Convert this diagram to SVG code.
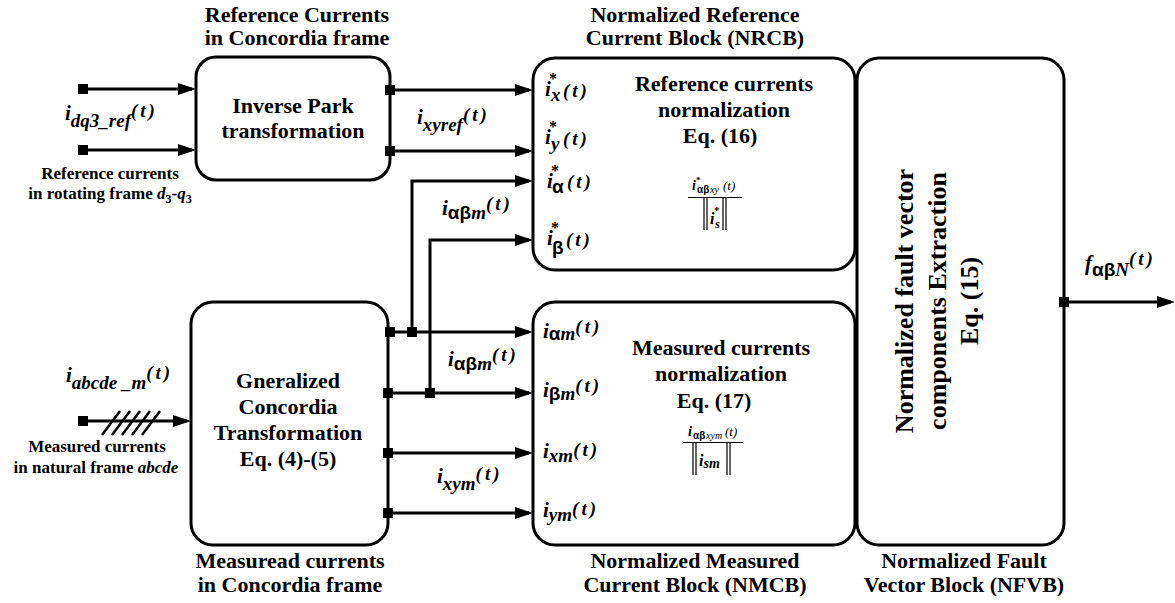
<svg xmlns="http://www.w3.org/2000/svg" width="1175" height="603" viewBox="0 0 1175 603">
<style>
.bg{fill:#fff}
.box{fill:#fff;stroke:#000;stroke-width:3}
.ln{fill:none;stroke:#000;stroke-width:1.2}
.arr{fill:none;stroke:#000;stroke-width:3;marker-end:url(#ah)}
.hs{stroke:#000;stroke-width:2.5}
.t{font-family:"Liberation Serif","Times New Roman","DejaVu Serif",serif;font-weight:bold;font-size:22px;text-anchor:middle;fill:#000}
.s{font-family:"Liberation Serif","Times New Roman","DejaVu Serif",serif;font-weight:bold;font-size:17px;text-anchor:middle;fill:#000}
.v{font-family:"Liberation Serif","Times New Roman","DejaVu Serif",serif;font-weight:bold;font-size:26px;text-anchor:middle;fill:#000}
.lab{font-family:"Liberation Serif","Times New Roman","DejaVu Serif",serif;font-weight:bold;font-style:italic;font-size:21px;fill:#000}
.sb{font-size:19px}
.pt{font-size:19px;letter-spacing:3px}
.g{font-family:"Liberation Sans",Arial,sans-serif;font-style:normal;font-weight:bold}
.st{font-style:normal;font-size:16px}
.fr{font-family:"Liberation Serif","Times New Roman","DejaVu Serif",serif;font-weight:bold;font-style:italic;fill:#000}
</style>
<defs>
<marker id="ah" markerUnits="userSpaceOnUse" markerWidth="18" markerHeight="12" refX="14" refY="6" orient="auto"><path d="M0,0 L18,6 L0,12 z" fill="#000"/></marker>
<rect id="sq" x="-5" y="-5" width="10" height="10" fill="#000"/>
</defs>
<rect class="bg" width="1175" height="603"/>

<g id="titles">
<text class="t" x="297" y="22">Reference Currents</text>
<text class="t" x="297" y="45">in Concordia frame</text>
<text class="t" x="695" y="22">Normalized Reference</text>
<text class="t" x="695" y="45">Current Block (NRCB)</text>
<text class="t" x="290" y="568">Measuread currents</text>
<text class="t" x="290" y="592">in Concordia frame</text>
<text class="t" x="695" y="568">Normalized Measured</text>
<text class="t" x="695" y="592">Current Block (NMCB)</text>
<text class="t" x="964" y="568">Normalized Fault</text>
<text class="t" x="964" y="592">Vector Block (NFVB)</text>
</g>

<g id="ref-input">
<text class="lab" x="65" y="120">i<tspan class="sb" dy="7">dq3_ref</tspan><tspan class="pt" dy="-10">(t)</tspan></text>
<text class="s" x="110" y="179">Reference currents</text>
<text class="s" x="110" y="199">in rotating frame <tspan font-style="italic">d</tspan><tspan font-size="12" dy="4">3</tspan><tspan dy="-4">-</tspan><tspan font-style="italic">q</tspan><tspan font-size="12" dy="4">3</tspan></text>
</g>

<g id="meas-input">
<text class="lab" x="66" y="382">i<tspan class="sb" dy="7">abcde _m</tspan><tspan class="pt" dy="-10">(t)</tspan></text>
<text class="s" x="97" y="452">Measured currents</text>
<text class="s" x="96" y="473">in natural frame <tspan font-style="italic">abcde</tspan></text>
</g>

<g id="inverse-park">
<rect class="box" x="196" y="57" width="194" height="123" rx="20"/>
<text class="t" x="293" y="113">Inverse Park</text>
<text class="t" x="293" y="138">transformation</text>
</g>

<g id="concordia">
<rect class="box" x="191" y="302" width="197" height="243" rx="22"/>
<text class="t" x="288" y="388">Gneralized</text>
<text class="t" x="288" y="414">Concordia</text>
<text class="t" x="288" y="440">Transformation</text>
<text class="t" x="288" y="466">Eq. (4)-(5)</text>
</g>

<g id="nrcb">
<rect class="box" x="533" y="58" width="322" height="212" rx="22"/>
<text class="t" x="724" y="91">Reference currents</text>
<text class="t" x="724" y="117">normalization</text>
<text class="t" x="720" y="143">Eq. (16)</text>
<text class="lab" x="545" y="96">i<tspan class="st" x="549" y="84">*</tspan><tspan class="sb" x="551" y="101">x</tspan><tspan class="pt" x="563" y="97">(t)</tspan></text>
<text class="lab" x="545" y="144">i<tspan class="st" x="549" y="132">*</tspan><tspan class="sb" x="551" y="150">y</tspan><tspan class="pt" x="563" y="145">(t)</tspan></text>
<text class="lab" x="547" y="188">i<tspan class="st" x="551" y="176">*</tspan><tspan class="g" font-size="19" x="552" y="193">α</tspan><tspan class="pt" x="567" y="188">(t)</tspan></text>
<text class="lab" x="547" y="245">i<tspan class="st" x="551" y="233">*</tspan><tspan class="g" font-size="19" x="552" y="254">β</tspan><tspan class="pt" x="566" y="246">(t)</tspan></text>
<text class="fr" x="692" y="190" font-size="14">i<tspan font-size="9" font-style="normal" x="696" y="183">*</tspan><tspan class="g" font-size="10" font-style="italic" x="697" y="193">αβ</tspan><tspan font-size="10" font-weight="normal" x="710" y="193">xy</tspan><tspan font-size="13" font-weight="normal" x="723" y="190">(t)</tspan></text>
<line class="ln" x1="688" y1="197.5" x2="742" y2="197.5"/>
<path class="ln" d="M704,198 V230 M707,198 V230 M723,198 V230 M726,198 V230"/>
<text class="fr" x="710" y="224" font-size="16">i<tspan font-size="11" font-style="normal" x="714" y="214">*</tspan><tspan font-size="13" x="715" y="228">s</tspan></text>
</g>

<g id="nmcb">
<rect class="box" x="533" y="302" width="322" height="243" rx="22"/>
<text class="t" x="721" y="355">Measured currents</text>
<text class="t" x="721" y="381">normalization</text>
<text class="t" x="714" y="408">Eq. (17)</text>
<text class="lab" x="543" y="338">i<tspan class="g" font-size="19" dy="2">α</tspan><tspan class="sb" dy="0">m</tspan><tspan class="pt" dy="-7">(t)</tspan></text>
<text class="lab" x="543" y="397">i<tspan class="g" font-size="19" dy="3">β</tspan><tspan class="sb" dy="0">m</tspan><tspan class="pt" dy="-8">(t)</tspan></text>
<text class="lab" x="543" y="458">i<tspan class="sb" dy="4">xm</tspan><tspan class="pt" dy="-6">(t)</tspan></text>
<text class="lab" x="543" y="517">i<tspan class="sb" dy="4">ym</tspan><tspan class="pt" dy="-6">(t)</tspan></text>
<text class="fr" x="688" y="436" font-size="14">i<tspan class="g" font-size="10" font-style="italic" x="693" y="439">αβ</tspan><tspan font-size="10" font-weight="normal" x="706" y="439">xym</tspan><tspan font-size="13" font-weight="normal" x="725" y="436">(t)</tspan></text>
<line class="ln" x1="683" y1="442.5" x2="743" y2="442.5"/>
<path class="ln" d="M693,443 V475 M696,443 V475 M727,443 V475 M730,443 V475"/>
<text class="fr" x="699" y="466" font-size="16">i<tspan font-size="14" dy="2">sm</tspan></text>
</g>

<g id="nfvb">
<rect class="box" x="857" y="58" width="207" height="487" rx="22"/>
<text class="v" transform="translate(913,301) rotate(-90)">Normalized fault vector</text>
<text class="v" transform="translate(946,301) rotate(-90)">components Extraction</text>
<text class="v" transform="translate(978,301) rotate(-90)">Eq.  (15)</text>
</g>

<g id="connectors">
<path class="arr" d="M83,89 H192"/>
<path class="arr" d="M83,150 H192"/>
<path class="arr" d="M390,90 H529"/>
<path class="arr" d="M390,151 H529"/>
<path class="arr" d="M83,421 H187"/>
<path class="arr" d="M388,332 H529"/>
<path class="arr" d="M388,393 H529"/>
<path class="arr" d="M388,453 H529"/>
<path class="arr" d="M388,513 H529"/>
<path class="arr" d="M412,332 V181 H529"/>
<path class="arr" d="M430,393 V240 H529"/>
<path class="arr" d="M1064,302 H1171"/>
<path class="hs" d="M102,435 L120,411 M112,435 L130,411 M122,435 L140,411 M132,435 L150,411 M142,435 L160,411"/>
<use href="#sq" x="83" y="89"/>
<use href="#sq" x="83" y="150"/>
<use href="#sq" x="83" y="421"/>
<use href="#sq" x="390" y="90"/>
<use href="#sq" x="390" y="151"/>
<use href="#sq" x="390" y="332"/>
<use href="#sq" x="412" y="332"/>
<use href="#sq" x="388" y="393"/>
<use href="#sq" x="430" y="393"/>
<use href="#sq" x="388" y="453"/>
<use href="#sq" x="388" y="513"/>
<use href="#sq" x="1064" y="302"/>
</g>

<g id="edge-labels">
<text class="lab" x="417" y="124">i<tspan class="sb" dy="7">xyref</tspan><tspan class="pt" dy="-10">(t)</tspan></text>
<text class="lab" x="442" y="215"><tspan>i</tspan><tspan class="g" font-size="19" dy="4">αβ</tspan><tspan class="sb" dy="0">m</tspan><tspan class="pt" dy="-9">(t)</tspan></text>
<text class="lab" x="448" y="366"><tspan>i</tspan><tspan class="g" font-size="19" dy="4">αβ</tspan><tspan class="sb" dy="0">m</tspan><tspan class="pt" dy="-9">(t)</tspan></text>
<text class="lab" x="437" y="483">i<tspan class="sb" dy="7">xym</tspan><tspan class="pt" dy="-10">(t)</tspan></text>
<text class="lab" x="1085" y="270">f<tspan class="g" font-size="19" dy="6">αβ</tspan><tspan class="sb" dy="0">N</tspan><tspan class="pt" dy="-11">(t)</tspan></text>
</g>
</svg>
